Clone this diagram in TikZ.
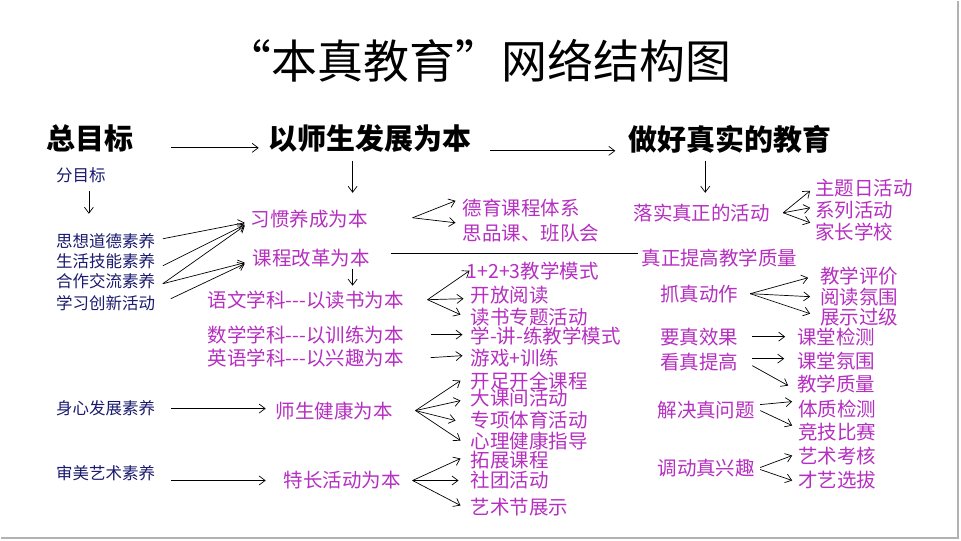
\documentclass[tikz,border=0pt]{standalone}
\usepackage{fontspec}
\setmainfont{Noto Sans CJK SC}
\usetikzlibrary{arrows.meta}
\definecolor{mag}{HTML}{B52FC0}
\definecolor{nav}{HTML}{1A1A6E}
\begin{document}
\begin{tikzpicture}[x=1pt,y=-1pt,
 m/.style={anchor=west,inner sep=0,text=mag,font=\fontsize{19.5}{19.5}\selectfont},
 n/.style={anchor=west,inner sep=0,text=nav,font=\fontsize{16.5}{16.5}\selectfont},
 h/.style={anchor=west,inner sep=0,font=\fontsize{29}{29}\selectfont\bfseries},
 ar/.style={-{Straight Barb[length=6pt,width=9pt]},line width=0.7pt}]
\fill[white] (0,0) rectangle (961,540);
\draw[gray!60,line width=2pt] (958,0)--(958,538)--(0,538);
\node[inner sep=0,font=\fontsize{46}{46}\selectfont] (t) at (478,60) {“本真教育”网络结构图};
\node[h] (g) at (45,138) {总目标};
\node[h] (g1) at (268,138) {以师生发展为本};
\node[h] (g2) at (628,138) {做好真实的教育};
\draw[ar] (170,147)--(258,147);
\draw[ar] (490,150)--(615,150);
\draw[ar] (352,160)--(352,192);
\draw[ar] (705,160)--(705,192);
\node[n] (f) at (55,174) {分目标};
\draw[ar] (88,190)--(88,213);
\node[n] (a1) at (55,240) {思想道德素养};
\node[n] (a2) at (55,260) {生活技能素养};
\node[n] (a3) at (55,281) {合作交流素养};
\node[n] (a4) at (55,302) {学习创新活动};
\node[m] (x) at (250,218) {习惯养成为本};
\node[m] (k) at (252,257) {课程改革为本};
\draw[ar] (162,238)--(244,222);
\draw[ar] (162,265)--(244,224);
\draw[ar] (162,283)--(244,225);
\draw[ar] (162,283)--(244,262);
\draw[ar] (170,298)--(244,263);
\draw[ar] (412,217)--(455,200);
\draw[ar] (412,217)--(455,222);
\node[m] at (462,207) {德育课程体系};
\node[m] at (462,232) {思品课、班队会};
\draw[line width=0.7pt] (390,253)--(638,253);
\node[m] at (641,257) {真正提高教学质量};
\draw[ar] (352,268)--(352,285);
\node[m] at (207,299) {语文学科{-}{-}{-}以读书为本};
\node[m] at (207,334) {数学学科{-}{-}{-}以训练为本};
\node[m] at (207,357) {英语学科{-}{-}{-}以兴趣为本};
\draw[ar] (427,299)--(469,270);
\draw[ar] (427,299)--(463,298);
\draw[ar] (427,299)--(460,314);
\node[m] at (466,270) {1+2+3教学模式};
\node[m] at (470,294) {开放阅读};
\node[m] at (470,316) {读书专题活动};
\node[m] at (470,335) {学-讲-练教学模式};
\node[m] at (470,357) {游戏+训练};
\draw[ar] (430,334)--(462,334);
\draw[ar] (430,357)--(462,355);
\node[m] at (633,212) {落实真正的活动};
\draw[ar] (783,212)--(810,190);
\draw[ar] (783,212)--(810,207);
\draw[ar] (783,212)--(810,222);
\node[m] at (815,187) {主题日活动};
\node[m] at (815,209) {系列活动};
\node[m] at (815,231) {家长学校};
\node[m] at (660,293) {抓真动作};
\draw[ar] (750,293)--(808,277);
\draw[ar] (750,293)--(810,296);
\draw[ar] (750,293)--(810,313);
\node[m] at (820,275) {教学评价};
\node[m] at (820,296) {阅读氛围};
\node[m] at (820,316) {展示过级};
\node[m] at (660,336) {要真效果};
\draw[ar] (752,336)--(785,336);
\node[m] at (797,336) {课堂检测};
\node[m] at (660,361) {看真提高};
\draw[ar] (752,358)--(784,358);
\draw[ar] (752,365)--(788,385);
\node[m] at (797,360) {课堂氛围};
\node[m] at (797,383) {教学质量};
\node[m] at (657,410) {解决真问题};
\draw[ar] (760,404)--(792,401);
\draw[ar] (760,410)--(792,425);
\node[m] at (798,408) {体质检测};
\node[m] at (798,431) {竞技比赛};
\node[m] at (657,468) {调动真兴趣};
\draw[ar] (760,467)--(792,455);
\draw[ar] (760,469)--(792,480);
\node[m] at (798,456) {艺术考核};
\node[m] at (798,480) {才艺选拔};
\node[n] at (55,408) {身心发展素养};
\draw[ar] (170,408)--(265,408);
\node[m] at (275,410) {师生健康为本};
\draw[ar] (415,410)--(460,380);
\draw[ar] (415,410)--(460,400);
\draw[ar] (415,410)--(455,420);
\draw[ar] (415,410)--(460,440);
\node[m] at (470,380) {开足开全课程};
\node[m] at (470,398) {大课间活动};
\node[m] at (470,419) {专项体育活动};
\node[m] at (470,440) {心理健康指导};
\node[n] at (55,473) {审美艺术素养};
\draw[ar] (170,480)--(265,480);
\node[m] at (283,480) {特长活动为本};
\draw[ar] (412,480)--(460,458);
\draw[ar] (412,480)--(458,480);
\draw[ar] (412,480)--(460,505);
\node[m] at (470,460) {拓展课程};
\node[m] at (470,480) {社团活动};
\node[m] at (470,507) {艺术节展示};
\end{tikzpicture}
\end{document}
